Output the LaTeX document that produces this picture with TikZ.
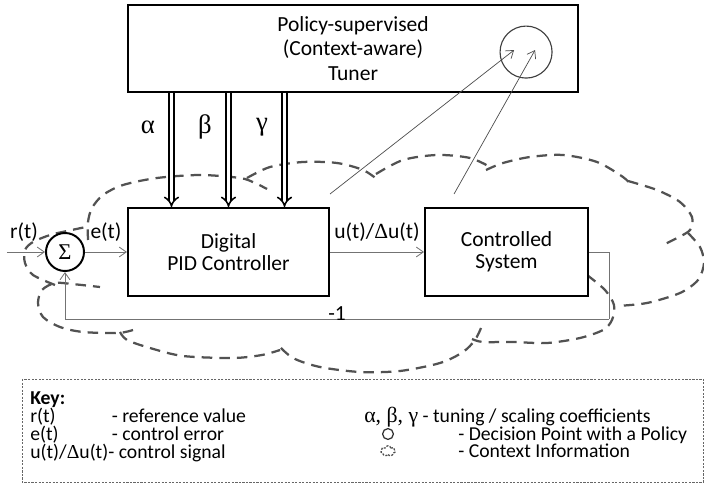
\documentclass[tikz,border=0pt]{standalone}
\usepackage{fontspec}
\setmainfont{Carlito}
\newfontfamily\symfont{Liberation Serif}
\usepackage{tikz}
\usetikzlibrary{arrows.meta,positioning,shapes.symbols}

\begin{document}
\begin{tikzpicture}[
    auto,
    x=0.025cm, y=-0.025cm,
    node distance=1cm,
    >={Straight Barb[length=5pt,width=7pt]},
    font=\fontsize{15.3}{15.6}\selectfont,
    block/.style={
		rectangle,
		draw=black,
		line width=1.4pt,
		text centered,
		align=center,
		minimum height=2.2cm,
		fill=white
	},
	sumnode/.style={
		circle,
		draw=black,
		line width=1.4pt,
		minimum size=0.95cm,
		inner sep=0pt,
		fill=white
	},
	dpoint/.style={
		circle,
		draw=black!75,
		line width=0.8pt,
		minimum size=1.3cm
	},
	signal/.style={
		draw=black!55,
		line width=0.6pt
	},
	ctx/.style={
		draw=black!70,
		line width=0.5pt
	},
	coef/.style={
		double,
		double distance=2.6pt,
		line width=1.1pt,
		-{Implies}
	},
	ctxcloud/.style={
		draw=black!68,
		line width=1.6pt,
		dash pattern=on 7.5pt off 5pt
	},
	keytext/.style={
		anchor=north west,
		inner sep=0pt,
		font=\fontsize{14}{11.2}\selectfont
	}
  ]
  \useasboundingbox (0,0) rectangle (704,484);

  % context cloud, drawn lobe by lobe
  \draw[ctxcloud] plot[smooth] coordinates {(133,330) (118,333) (83,332) (60,327) (43,317) (38,303) (42,290) (55,283) (72,284) (100,287)};
  \draw[ctxcloud] plot[smooth] coordinates {(55,285) (33,275) (25,263) (25,250) (33,242) (50,235) (67,231) (86,227)};
  \draw[ctxcloud] plot[smooth] coordinates {(88,240) (88,222) (92,208) (103,195) (123,185) (157,178) (200,175) (240,178) (255,183) (267,189)};
  \draw[ctxcloud] plot[smooth] coordinates {(247,178) (270,167) (303,162) (337,163) (363,170) (378,180)};
  \draw[ctxcloud] plot[smooth] coordinates {(376,174) (403,160) (437,155) (470,158) (492,168)};
  \draw[ctxcloud] plot[smooth] coordinates {(486,170) (503,163) (530,157) (563,155) (597,162) (623,177) (631,185)};
  \draw[ctxcloud] plot[smooth] coordinates {(628,181) (657,190) (680,202) (692,217) (690,230) (677,238) (663,245)};
  \draw[ctxcloud] plot[smooth] coordinates {(688,233) (700,247) (704,263) (698,280) (680,293) (647,303) (617,306)};
  \draw[ctxcloud] plot[smooth] coordinates {(587,275) (605,290) (614,305) (612,320) (603,330) (580,338) (547,343) (513,342) (483,342) (472,339)};
  \draw[ctxcloud] plot[smooth] coordinates {(481,328) (475,340) (463,352) (440,363) (400,371) (360,372) (320,367) (293,358) (277,344)};
  \draw[ctxcloud] plot[smooth] coordinates {(120,332) (127,340) (150,348) (183,356) (233,358) (262,355) (280,350)};

  % blocks
  \node [block, minimum width=5.025cm] (pid) at (228.5,252) {Digital\\PID Controller};
  \node [sumnode, left=1.05cm of pid] (sum) {\fontsize{16}{16}\selectfont\symfont Σ};
  \node [block, minimum width=4.075cm, right=2.35cm of pid] (plant) {Controlled\\System};
  \node [block, minimum width=11.25cm, minimum height=2.175cm, above=2.85cm of pid.north west, anchor=south west,
         font=\fontsize{15.3}{17.4}\selectfont] (tuner) {Policy-supervised\\(Context-aware)\\Tuner};
  \node [dpoint] (dp) at ([xshift=-1.325cm,yshift=-0.09cm]tuner.east) {};

  \coordinate [left=0.95cm of sum.west] (rin);
  \coordinate [below right=1.675cm and 0.5cm of plant.east] (fb);
  \coordinate [above=0.325cm of pid.north east] (obs1);
  \coordinate [above right=0.325cm and 0.75cm of plant.north west] (obs2);

  % tuning coefficients
  \foreach \dx/\gr [count=\i] in {-1.425cm/α, 0cm/β, 1.4cm/γ}{
    \coordinate (c\i) at ([xshift=\dx]pid.north);
    \draw [coef] (c\i |- tuner.south) -- node [pos=0.3, left=0.28cm, font=\fontsize{19}{19}\selectfont] {\symfont\gr} (c\i);
  }

  % signals
  \draw [signal,->] (rin) -- node [pos=0.45, above=4pt] {r(t)} (sum);
  \draw [signal,->] (sum) -- node [above=4pt] {e(t)} (pid);
  \draw [signal,->] (pid) -- node [above=4pt] {u(t)/{\symfont Δ}u(t)} (plant);
  \draw [signal] (plant.east) -| (fb);
  \draw [signal,->] (fb) -| node [pos=0.25, above=-5pt] {-1} (sum.south);

  \draw [ctx,->] (obs1) -- ([xshift=-0.3cm,yshift=0.05cm]dp.center);
  \draw [ctx,->] (obs2) -- ([xshift=0.225cm,yshift=0.05cm]dp.center);

  % key
  \draw [draw=black!60, line width=0.5pt, dash pattern=on 1.5pt off 1pt] (22,379) rectangle (703.5,482);
  \node [keytext] (keyl) at (30,391) {%
  \begin{tabular}{@{}p{2.04cm}@{}l@{}}
   \textbf{Key:} & \\[-0.8pt]
   r(t) & - reference value\\[-0.8pt]
   e(t) & - control error\\[-0.8pt]
   \multicolumn{2}{@{}l@{}}{u(t)/{\symfont Δ}u(t)- control signal}
  \end{tabular}
  };
  \node [keytext] (keyr) at (364,391) {%
  \begin{tabular}{@{}p{2.35cm}@{}l@{}}
   \textbf{\phantom{Key:}} & \\[-0.8pt]
   \multicolumn{2}{@{}l@{}}{{\fontsize{15.5}{11.2}\selectfont\symfont α, β, γ} - tuning / scaling coefficients}\\[-0.8pt]
   & - Decision Point with a Policy\\[-0.8pt]
   & - Context Information
  \end{tabular}
  };
  \node [circle, draw=black!80, line width=0.9pt, minimum size=0.27cm, inner sep=0pt] (keydp) at (388,434) {};
  \node [cloud, cloud puffs=7, aspect=1.4, draw=black!70, line width=0.9pt, dash pattern=on 1.5pt off 1pt,
         minimum width=0.36cm, minimum height=0.26cm, inner sep=0pt] (keyctx) at (388,451) {};

\end{tikzpicture}
\end{document}
